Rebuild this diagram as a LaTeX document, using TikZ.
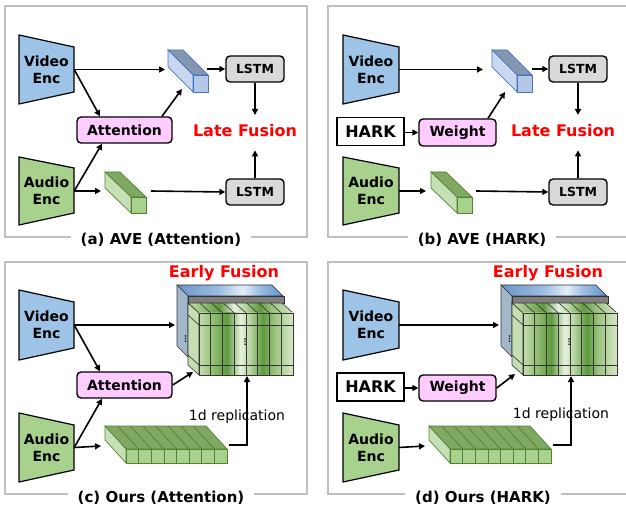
\documentclass[tikz,border=0pt]{standalone}
\usepackage{fontspec}
\setmainfont{DejaVu Sans}
\usetikzlibrary{arrows.meta, calc}
\definecolor{encVideo}{HTML}{9DC3E6}
\definecolor{encAudio}{HTML}{A9D18E}
\definecolor{attnPink}{HTML}{FFCCFF}
\definecolor{lstmGray}{HTML}{D9D9D9}
\definecolor{frameGray}{HTML}{BFBFBF}
\definecolor{fuseRed}{HTML}{FF0000}
\definecolor{cubeBlueFront}{HTML}{B4C7E7}
\definecolor{cubeBlueTop}{HTML}{8497B0}
\definecolor{cubeBlueSide}{HTML}{C9D8F0}
\definecolor{cubeBlueEdge}{HTML}{4472C4}
\definecolor{cubeGreenFront}{HTML}{A9D18E}
\definecolor{cubeGreenTop}{HTML}{7FA862}
\definecolor{cubeGreenSide}{HTML}{C5E0B4}
\definecolor{cubeGreenEdge}{HTML}{548235}
\definecolor{volBlueSide}{HTML}{A3B7CB}
\definecolor{volStrip}{HTML}{7F7F7F}
\definecolor{vbA}{HTML}{6A95C8}
\definecolor{vbB}{HTML}{9DBDE2}
\definecolor{vbC}{HTML}{E4EEF8}
\definecolor{vbD}{HTML}{5D8FCB}
\definecolor{vgA}{HTML}{C5DDB0}
\definecolor{vgB}{HTML}{9CC47E}
\definecolor{vgC}{HTML}{5E9A3E}
\definecolor{vgD}{HTML}{E8F2E0}
\definecolor{vgE}{HTML}{B8D6A0}
\definecolor{vgF}{HTML}{D6E8C8}
\pgfdeclarehorizontalshading{volBlueTop}{100bp}{color(0bp)=(vbA); color(25bp)=(vbA);
  color(45bp)=(vbB); color(56bp)=(vbC); color(64bp)=(vbB); color(75bp)=(vbD); color(100bp)=(vbD)}
\pgfdeclarehorizontalshading{volGreenCols}{100bp}{color(0bp)=(vgA); color(25bp)=(vgA);
  color(31bp)=(vgB); color(40bp)=(vgC); color(47bp)=(vgD); color(52bp)=(vgE);
  color(59bp)=(vgC); color(65bp)=(vgB); color(75bp)=(vgF); color(100bp)=(vgF)}

\begin{document}
\begin{tikzpicture}[x=1pt, y=-1pt,
    frame/.style={draw=frameGray, line width=2pt},
    encbody/.style={draw=black, line width=1.2pt, fill=#1},
    enc/.style={font=\fontsize{14}{17}\selectfont\bfseries, align=center,
                minimum width=55pt, minimum height=46pt, inner sep=0pt},
    attn/.style={draw, rounded corners=4pt, fill=attnPink, line width=1.4pt,
                 minimum width=95pt, minimum height=26pt, inner sep=0pt,
                 font=\fontsize{14}{17}\selectfont\bfseries},
    lstm/.style={draw, rounded corners=4pt, fill=lstmGray, line width=1.4pt,
                 minimum width=58pt, minimum height=26pt, inner sep=0pt,
                 font=\fontsize{12.5}{15}\selectfont\bfseries},
    hark/.style={draw, fill=white, line width=1.4pt, minimum width=67pt,
                 minimum height=28pt, inner sep=0pt,
                 font=\fontsize{16}{19}\selectfont\bfseries},
    fusion/.style={text=fuseRed, font=\fontsize{16}{19}\selectfont\bfseries},
    late/.style={fusion, text height=12pt, text depth=4pt, inner ysep=9.5pt},
    caption/.style={fill=white, inner xsep=10pt, font=\fontsize{15}{18}\selectfont\bfseries},
    repl/.style={font=\fontsize{14}{17}\selectfont},
    arrow/.style={-{Triangle[length=6pt,width=6pt]}, line width=1.6pt},
    blueface/.style={draw=cubeBlueEdge, line width=0.7pt, fill=#1},
    greenface/.style={draw=cubeGreenEdge, line width=0.7pt, fill=#1},
    voledge/.style={draw=black!80, line width=0.6pt},
]
\useasboundingbox (0,0) rectangle (626,510);

% ── Panel frames ──
\draw[frame] (5,6) rectangle (307,237);
\draw[frame] (630,6) -- (328,6) -- (328,237) -- (630,237);
\draw[frame] (5,262) rectangle (307,494);
\draw[frame] (630,262) -- (328,262) -- (328,494) -- (630,494);

% ── Feature cuboids of the top row ──
\foreach \cx in {193,517} {
  \begin{scope}[shift={(\cx,75)}]
    \draw[blueface=cubeBlueTop] (0,0) -- (-25,-25) -- (-10,-25) -- (15,0) -- cycle;
    \draw[blueface=cubeBlueSide] (0,0) -- (-25,-25) -- (-25,-8) -- (0,17) -- cycle;
    \draw[blueface=cubeBlueFront] (0,0) rectangle (15,17);
  \end{scope}
}
\foreach \cx in {131,457} {
  \begin{scope}[shift={(\cx,197)}]
    \draw[greenface=cubeGreenTop] (0,0) -- (-26,-25) -- (-11,-25) -- (15,0) -- cycle;
    \draw[greenface=cubeGreenSide] (0,0) -- (-26,-25) -- (-26,-9) -- (0,16) -- cycle;
    \draw[greenface=cubeGreenFront] (0,0) rectangle (15,16);
  \end{scope}
}

% ── Fused volumes and audio bars of the bottom row ──
\foreach \px in {0,324} {
  \begin{scope}[xshift=\px pt]
    % video volume behind
    \shadedraw[shading=volBlueTop, voledge] (177,285) -- (272,285) -- (283,296) -- (188,296) -- cycle;
    \filldraw[fill=volBlueSide, voledge] (177,285) -- (188,296) -- (188,357) -- (177,346) -- cycle;
    \filldraw[fill=volStrip, voledge] (188,296) rectangle (284,303);
    \foreach \d in {0,1,2} \fill (185.5,{336+2.6*\d}) circle (0.8);
    % replicated audio in front
    \shadedraw[shading=volGreenCols, voledge] (188,303) -- (282,303) -- (293,313) -- (199,313) -- cycle;
    \filldraw[fill=vgA, voledge] (188,303) -- (199,313) -- (199,375) -- (188,365) -- cycle;
    \shadedraw[shading=volGreenCols, voledge] (199,313) rectangle (293,375);
    \foreach \i in {1,...,7} {
      \draw[voledge] ({199+11.75*\i},313) -- ++(0,62);
      \draw[voledge] ({199+11.75*\i},313) -- ++(-11,-10);
    }
    \draw[voledge] (199,325) -- (293,325);
    \draw[voledge] (199,365) -- (293,365);
    \draw[voledge] (188,315) -- (199,325);
    \draw[voledge] (188,355) -- (199,365);
    \foreach \d in {0,1,2} \fill (245,{339+2.6*\d}) circle (0.8);
    % flat audio bar
    \draw[greenface=cubeGreenTop] (105,426) -- (206,426) -- (227,449) -- (126,449) -- cycle;
    \draw[greenface=cubeGreenSide] (105,426) -- (126,449) -- (126,463) -- (105,440) -- cycle;
    \draw[greenface=cubeGreenFront] (126,449) rectangle (227,463);
    \foreach \i in {1,...,7} {
      \draw[cubeGreenEdge, line width=0.7pt] ({126+12.625*\i},449) -- ++(0,14);
      \draw[cubeGreenEdge, line width=0.7pt] ({126+12.625*\i},449) -- ++(-21,-23);
    }
  \end{scope}
}

% ── Panel (a): AVE (Attention) ──
\draw[encbody=encVideo] (19,35) -- (74,47) -- (74,92) -- (19,104) -- cycle;
\node[enc] (venA) at (46.5,69.5) {Video\\Enc};
\draw[encbody=encAudio] (19,157) -- (74,168) -- (74,213) -- (19,225) -- cycle;
\node[enc] (audA) at (46.5,191) {Audio\\Enc};
\node[attn] (attA) at (124.5,130) {Attention};
\node[lstm] (lstA1) at (255,69) {LSTM};
\node[lstm] (lstA2) at (255,192) {LSTM};
\node[late] (lateA) at (245,132.7) {Late Fusion};
\node[caption] (capA) at (161,240) {(a) AVE (Attention)};
\coordinate (vcA-in) at (165,69.5);
\coordinate (vcA-att) at (182,89);
\coordinate (vcA-out) at (207,69);
\coordinate (acA-in) at (101,191);
\coordinate (acA-out) at (151,191);

\draw[arrow] (venA.east) -- (vcA-in);
\draw[arrow] (venA.east) -- ([xshift=-24.5pt]attA.north);
\draw[arrow] (audA.east) -- ([xshift=-22.5pt]attA.south);
\draw[arrow] ([xshift=37.5pt]attA.north) -- (vcA-att);
\draw[arrow] (audA.east) -- (acA-in);
\draw[arrow] (vcA-out) -- (lstA1.west);
\draw[arrow] (acA-out) -- (lstA2.west);
\draw[arrow] (lstA1.south) -- (lstA1.south |- lateA.north);
\draw[arrow] (lstA2.north) -- (lstA2.north |- lateA.south);

% ── Panel (b): AVE (HARK) ──
\draw[encbody=encVideo] (343,35) -- (399,47) -- (399,92) -- (343,104) -- cycle;
\node[enc] (venB) at (371,69.5) {Video\\Enc};
\draw[encbody=encAudio] (343,157) -- (399,168) -- (399,213) -- (343,225) -- cycle;
\node[enc] (audB) at (371,191) {Audio\\Enc};
\node[hark] (harkB) at (370.5,131.5) {HARK};
\node[attn, minimum width=77pt, minimum height=27pt] (wgtB) at (457.5,132.5) {Weight};
\node[lstm] (lstB1) at (578,69) {LSTM};
\node[lstm] (lstB2) at (578,192) {LSTM};
\node[late] (lateB) at (563,132.7) {Late Fusion};
\node[caption] (capB) at (482,240) {(b) AVE (HARK)};
\coordinate (vcB-in) at (483,69.5);
\coordinate (vcB-att) at (505,92);
\coordinate (vcB-out) at (532,69);
\coordinate (acB-in) at (426,191);
\coordinate (acB-out) at (476,191);

\draw[arrow] (venB.east) -- (vcB-in);
\draw[arrow] (harkB.east |- wgtB.west) -- (wgtB.west);
\draw[arrow] ([xshift=30.5pt]wgtB.north) -- (vcB-att);
\draw[arrow] (audB.east) -- (acB-in);
\draw[arrow] (vcB-out) -- (lstB1.west);
\draw[arrow] (acB-out) -- (lstB2.west);
\draw[arrow] (lstB1.south) -- (lstB1.south |- lateB.north);
\draw[arrow] (lstB2.north) -- (lstB2.north |- lateB.south);

% ── Panel (c): Ours (Attention) ──
\draw[encbody=encVideo] (19,290) -- (74,302) -- (74,348) -- (19,360) -- cycle;
\node[enc] (venC) at (46.5,325) {Video\\Enc};
\draw[encbody=encAudio] (19,413) -- (74,425) -- (74,470) -- (19,482) -- cycle;
\node[enc] (audC) at (46.5,447.5) {Audio\\Enc};
\node[attn] (attC) at (124.5,385) {Attention};
\node[fusion] (earlyC) at (224,273) {Early Fusion};
\node[repl] (replC) at (237,417) {1d replication};
\node[caption] (capC) at (161,497.5) {(c) Ours (Attention)};
\coordinate (volC-v) at (175,325);
\coordinate (volC-a) at (193,372);
\coordinate (volC-r) at (247,376);
\coordinate (barC-in) at (101,446);
\coordinate (barC-out) at (229,445);

\draw[arrow] (venC.east) -- (volC-v);
\draw[arrow] (venC.east) -- ([xshift=-24.5pt]attC.north);
\draw[arrow] (audC.east) -- ([xshift=-22.5pt]attC.south);
\draw[arrow] (attC.east) -- (volC-a);
\draw[arrow] (audC.east) -- (barC-in);
\draw[arrow] (barC-out) -| (volC-r);

% ── Panel (d): Ours (HARK) ──
\draw[encbody=encVideo] (343,290) -- (399,302) -- (399,348) -- (343,360) -- cycle;
\node[enc] (venD) at (371,325) {Video\\Enc};
\draw[encbody=encAudio] (343,413) -- (399,425) -- (399,470) -- (343,482) -- cycle;
\node[enc] (audD) at (371,447.5) {Audio\\Enc};
\node[hark] (harkD) at (370.5,387) {HARK};
\node[attn, minimum width=77pt, minimum height=26pt] (wgtD) at (457.5,388) {Weight};
\node[fusion] (earlyD) at (548,273) {Early Fusion};
\node[repl] (replD) at (561,415) {1d replication};
\node[caption] (capD) at (483,497.5) {(d) Ours (HARK)};
\coordinate (volD-v) at (499,325);
\coordinate (volD-a) at (515,374);
\coordinate (volD-r) at (571,376);
\coordinate (barD-in) at (425,446);
\coordinate (barD-out) at (553,445);

\draw[arrow] (venD.east) -- (volD-v);
\draw[arrow] (harkD.east |- wgtD.west) -- (wgtD.west);
\draw[arrow] (wgtD.east) -- (volD-a);
\draw[arrow] (audD.east) -- (barD-in);
\draw[arrow] (barD-out) -| (volD-r);

\end{tikzpicture}
\end{document}
